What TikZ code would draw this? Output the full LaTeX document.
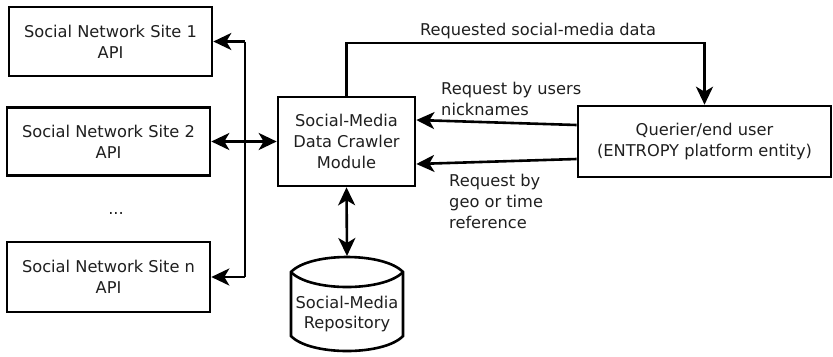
\documentclass[tikz,border=0pt]{standalone}
\usepackage{fontspec}
\setmainfont{DejaVu Sans}
\usetikzlibrary{arrows.meta,calc}
\begin{document}
\begin{tikzpicture}[x=1bp,y=-1bp,
  every node/.style={font=\fontsize{16.3}{20.8}\selectfont, text=black!88, align=center, inner sep=0pt},
  box/.style={draw, line width=2.6bp, minimum width=#1, anchor=center},
  tip/.style={-{Stealth[length=18bp,width=17bp,inset=5bp]}},
  dtip/.style={{Stealth[length=18bp,width=17bp,inset=5bp]}-{Stealth[length=18bp,width=17bp,inset=5bp]}},
  conn/.style={line width=2.6bp}]
\useasboundingbox (0,0) rectangle (833,356);

\node[box=203bp, minimum height=69bp] (b1) at (110.5,41.5) {Social Network Site 1\\API};
\node[box=203bp, minimum height=68bp] (b2) at (108.5,141.5) {Social Network Site 2\\API};
\node (dots) at (116,213) {...};
\node[box=203bp, minimum height=70bp] (bn) at (108.5,277) {Social Network Site n\\API};

\node[box=137bp, minimum height=89bp] (c) at (346.5,141.5) {Social-Media\\Data Crawler\\Module};
\node[box=253bp, minimum height=71bp] (q) at (704.5,141.5) {Querier/end user\\(ENTROPY platform entity)};

% repository
\draw[line width=2.6bp] (291,272) .. controls (310,252) and (384,252) .. (403,272) -- (403,336)
   .. controls (384,356) and (310,356) .. (291,336) -- cycle;
\draw[line width=2.6bp] (291,272) .. controls (310,292) and (384,292) .. (403,272);
\node (r) at (347,314) {Social-Media\\Repository};
\coordinate (rtop) at (347,256);

% bus on the left
\coordinate (jt) at (245,0 |- b1.east);
\coordinate (jb) at (245,0 |- bn.east);
\draw[conn] (jt) -- (jb);
\draw[conn,tip] (jt) -- (b1.east);
\draw[conn,tip] (jb) -- (bn.east);
\draw[conn,dtip] (b2.east) -- (c.west);

% crawler - repository
\draw[conn,dtip] (c.south) -- (rtop);

% top connector
\coordinate (top) at (0,43);
\draw[conn,tip] (c.north) |- (q.north |- top) -- (q.north);
\node (l1) at (538,31) {Requested social-media data};

% requests
\draw[conn,tip] ([yshift=16.5bp]q.west) -- ([yshift=21.5bp]c.east);
\draw[conn,tip] ([yshift=-17.5bp]q.west) -- ([yshift=-22.5bp]c.east);
\node[anchor=west, align=left] (l2) at (441,99) {Request by users\\nicknames};
\node[anchor=west, align=left] (l3) at (449,201.5) {Request by\\geo or time\\reference};
\end{tikzpicture}
\end{document}
